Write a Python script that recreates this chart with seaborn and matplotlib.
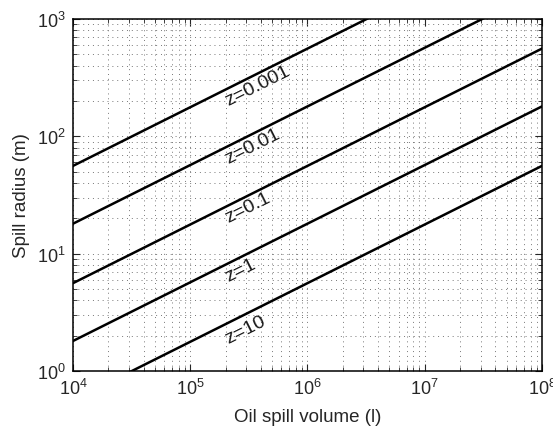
import numpy as np
import pandas as pd
import matplotlib
matplotlib.use("Agg")
import matplotlib.pyplot as plt
import seaborn as sns

# valores (extremos de cada recta, log-log)
volume = [1e4, 1e8]
z_labels = ["0.001", "0.01", "0.1", "1", "10"]
radius_start = [56, 18, 5.6, 1.8, 0.56]
radius_end = [5600, 1800, 560, 180, 56]

# posición de las etiquetas z=...
label_x = [2.1e5, 2.1e5, 2.1e5, 2.1e5, 2.1e5]
label_y = [185, 59, 18.5, 5.8, 1.72]

rows = []
for z, r0, r1 in zip(z_labels, radius_start, radius_end):
    rows.append({"z": z, "volume": volume[0], "radius": r0})
    rows.append({"z": z, "volume": volume[1], "radius": r1})
df = pd.DataFrame(rows)

sns.set_style("ticks")
plt.rcParams["font.family"] = ["Liberation Sans", "DejaVu Sans"]
plt.rcParams["xtick.direction"] = "in"
plt.rcParams["ytick.direction"] = "in"

fig = plt.figure(figsize=(5.53, 4.27), dpi=100)
ax = fig.add_axes([0.132, 0.129, 0.848, 0.824])
ax.set(xscale="log", yscale="log")

sns.lineplot(data=df, x="volume", y="radius", hue="z",
             palette=["black"] * len(z_labels), linewidth=1.8,
             legend=False, ax=ax)

for z, lx, ly in zip(z_labels, label_x, label_y):
    ax.text(lx, ly, f"z={z}", rotation=26.6, rotation_mode="anchor",
            ha="left", va="baseline", fontsize=14, color="#1a1a1a")

ax.set_xlim(1e4, 1e8)
ax.set_ylim(1e0, 1e3)
ax.grid(True, which="both", linestyle=(0, (1, 4)), linewidth=0.7, color="#777777")
ax.tick_params(which="both", top=True, right=True, labelsize=13, pad=5)
ax.tick_params(which="major", length=5, width=0.8)
ax.tick_params(which="minor", length=3, width=0.6)
for s in ax.spines.values():
    s.set_linewidth(1.1)
    s.set_color("black")

ax.set_xlabel("Oil spill volume (l)", fontsize=13.5, labelpad=7)
ax.set_ylabel("Spill radius (m)", fontsize=13.5, labelpad=5)

fig.savefig("out.png", dpi=100)
